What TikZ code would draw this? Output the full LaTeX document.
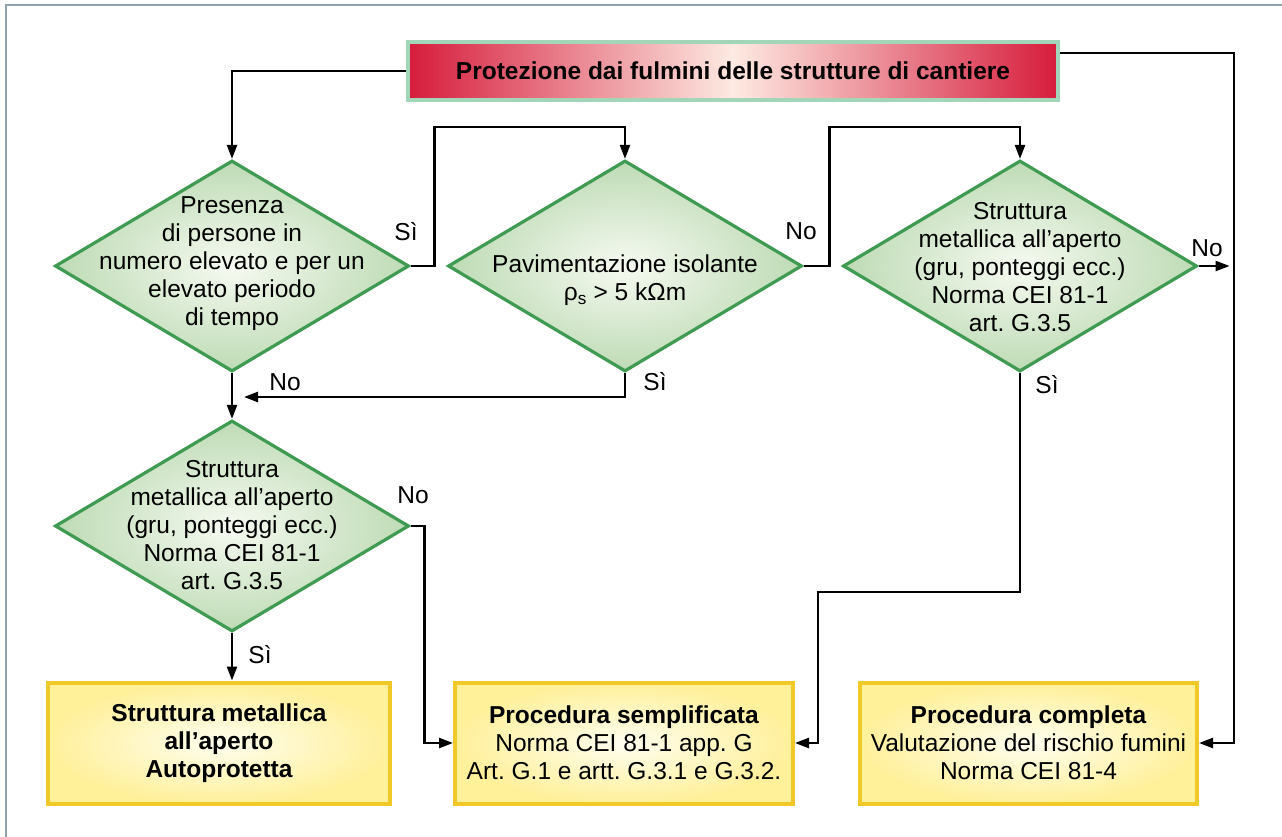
\documentclass[tikz,border=0pt]{standalone}
\usepackage{fontspec}
\setmainfont{Liberation Sans}
\usetikzlibrary{arrows.meta,shapes.geometric}
\definecolor{dgreen}{HTML}{3F9A52}
\definecolor{dinner}{HTML}{F6FAF1}
\definecolor{douter}{HTML}{BEDBB5}
\definecolor{ygold}{HTML}{F0C828}
\definecolor{yinner}{HTML}{FFFEF0}
\definecolor{youter}{HTML}{FFF09A}
\definecolor{tred}{HTML}{D61C3C}
\definecolor{tpink}{HTML}{FDEAE2}
\definecolor{tborder}{HTML}{A3D6B8}
\definecolor{framec}{HTML}{8DA4AB}
\newcommand\myfs{\fontsize{24.5pt}{28pt}\selectfont}
\frenchspacing
\begin{document}
\begin{tikzpicture}[x=1pt,y=-1pt,
  dia/.style={diamond, draw=dgreen, line width=3.2pt, inner sep=0pt,
    minimum width=354pt, minimum height=211pt, inner color=dinner, outer color=douter},
  txt/.style={align=center, font=\myfs, inner sep=0pt},
  ybox/.style={rectangle, draw=ygold, line width=4pt, inner sep=0pt,
    minimum width=338pt, minimum height=121pt, inner color=yinner, outer color=youter,
    align=center, font=\myfs},
  ttl/.style={rectangle, draw=tborder, line width=4pt, inner sep=0pt,
    minimum width=650pt, minimum height=58pt, left color=tred, right color=tred,
    middle color=tpink, font=\myfs\bfseries},
  lbl/.style={font=\myfs, inner sep=0pt},
  arr/.style={-{Triangle[length=14pt,width=10pt]}, line width=2.4pt},
  ln/.style={line width=2.4pt}]
\useasboundingbox (0,0) rectangle (1282,837);
\fill[white] (0,0) rectangle (1282,837);
\draw[framec, line width=2.5pt] (6,837) -- (6,5) -- (1282,5);

% title
\node[ttl] (title) at (733,71) {Protezione dai fulmini delle strutture di cantiere};

% diamonds
\node[dia] (d1) at (232,266) {};
\node[txt] (d1t) at (232,264) {Presenza\\di persone in\\numero elevato e per un\\elevato periodo\\di tempo};
\node[dia] (d2) at (625,266) {};
\node[txt] (d2t) at (625,280) {Pavimentazione isolante\\ρ\textsubscript{s} > 5 kΩm};
\node[dia] (d3) at (1020,266) {};
\node[txt] (d3t) at (1020,267) {Struttura\\metallica all’aperto\\(gru, ponteggi ecc.)\\Norma CEI 81-1\\art. G.3.5};
\node[dia] (d4) at (232,526) {};
\node[txt] (d4t) at (232,525) {Struttura\\metallica all’aperto\\(gru, ponteggi ecc.)\\Norma CEI 81-1\\art. G.3.5};

% boxes
\node[ybox, minimum width=342pt] (bA) at (219,743) {\bfseries Struttura metallica\\\bfseries all’aperto\\\bfseries Autoprotetta};
\node[ybox] (bB) at (624,743) {\textbf{Procedura semplificata}\\Norma CEI 81-1 app. G\\Art. G.1 e artt. G.3.1 e G.3.2.};
\node[ybox, minimum width=337pt] (bC) at (1028.5,743) {\textbf{Procedura completa}\\Valutazione del rischio fumini\\Norma CEI 81-4};

% helper coordinates
\coordinate (m1) at (244,397);
\coordinate (k1) at (818,592);

% connectors
\draw[arr] (title.west) -| (d1.north);
\draw[arr] ([yshift=18pt]title.east) -| ([xshift=35pt]bC.east) -- (bC.east);
\draw[arr] (d1.east) -- ++(24,0) |- ([yshift=32pt]d2.north) -- (d2.north);
\draw[arr] (d2.east) -- ++(26,0) |- ([yshift=32pt]d3.north) -- (d3.north);
\draw[arr] (d3.east) -- ++(31,0);
\draw[arr] (d1.south) -- (d4.north);
\draw[arr] (d2.south) |- (m1);
\draw[arr] (d3.south) |- (k1) |- (bB.east);
\draw[arr] (d4.east) -- ++(14,0) |- (bB.west);
\draw[arr] (d4.south) -- (d4.south |- bA.north);

% labels
\node[lbl] (l1) at (406,232) {Sì};
\node[lbl] (l2) at (285,382) {No};
\node[lbl] (l3) at (655,382) {Sì};
\node[lbl] (l4) at (801,231) {No};
\node[lbl] (l5) at (1207,248) {No};
\node[lbl] (l6) at (1047,385) {Sì};
\node[lbl] (l7) at (413,495) {No};
\node[lbl] (l8) at (260,655) {Sì};
\end{tikzpicture}
\end{document}
